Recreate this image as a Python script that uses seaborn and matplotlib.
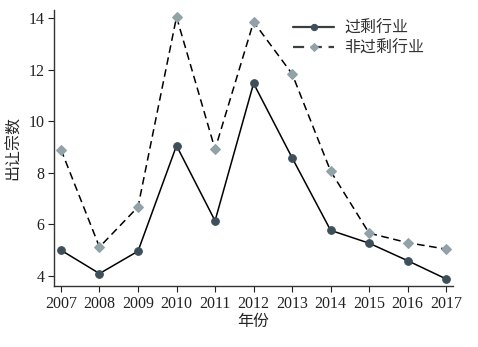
import matplotlib
matplotlib.use("Agg")
import matplotlib.pyplot as plt
import seaborn as sns
import pandas as pd

years = [2007, 2008, 2009, 2010, 2011, 2012, 2013, 2014, 2015, 2016, 2017]
overcap = [4.99, 4.08, 4.95, 9.05, 6.13, 11.47, 8.58, 5.76, 5.26, 4.58, 3.87]
non_overcap = [8.90, 5.11, 6.67, 14.05, 8.91, 13.86, 11.84, 8.06, 5.65, 5.28, 5.03]
series_names = ["过剩行业", "非过剩行业"]
y_ticks = [4, 6, 8, 10, 12, 14]

sns.set_theme(style="ticks")
plt.rcParams["font.family"] = ["Liberation Serif", "Noto Sans CJK SC"]

df = pd.DataFrame({
    "年份": years * 2,
    "出让宗数": overcap + non_overcap,
    "组别": [series_names[0]] * len(years) + [series_names[1]] * len(years),
})

fig = plt.figure(figsize=(4.78, 3.47), dpi=100)
ax = fig.add_axes([0.113, 0.176, 0.835, 0.795])

sns.lineplot(data=df[df["组别"] == series_names[0]], x="年份", y="出让宗数",
             ax=ax, color="black", linewidth=1.1, marker="o", markersize=5.5,
             markerfacecolor="#3d4f59", markeredgecolor="#3d4f59",
             label=series_names[0])
sns.lineplot(data=df[df["组别"] == series_names[1]], x="年份", y="出让宗数",
             ax=ax, color="black", linewidth=1.1, linestyle=(0, (5, 3)),
             marker="D", markersize=5.2,
             markerfacecolor="#91a3a8", markeredgecolor="#91a3a8",
             label=series_names[1])

ax.set_xlim(2006.82, 2017.18)
ax.set_ylim(3.6, 14.32)
ax.set_xticks(years)
ax.set_xticklabels([str(y) for y in years])
ax.set_yticks(y_ticks)
ax.tick_params(axis="both", labelsize=11.5, length=4, width=0.8,
               colors="#222222", direction="out", pad=3)
ax.set_xlabel("年份", fontsize=11.5, family=["Noto Sans CJK SC"], labelpad=1)
ax.set_ylabel("出让宗数", fontsize=11.5, family=["Noto Sans CJK SC"], labelpad=5)
for side in ["top", "right"]:
    ax.spines[side].set_visible(False)
for side in ["left", "bottom"]:
    ax.spines[side].set_color("#333333")
    ax.spines[side].set_linewidth(1.0)

leg = ax.legend(loc="upper right", bbox_to_anchor=(0.955, 1.005), frameon=False,
                prop={"family": "Noto Sans CJK SC", "size": 11.5},
                handlelength=2.6, handletextpad=0.6,
                labelspacing=0.2, borderaxespad=0.3)
for txt in leg.get_texts():
    txt.set_color("#333333")
for line in leg.get_lines():
    line.set_color("#3a3f42")
    line.set_linewidth(1.6)
    line.set_markersize(4.5)

fig.savefig("out.png", dpi=100)
